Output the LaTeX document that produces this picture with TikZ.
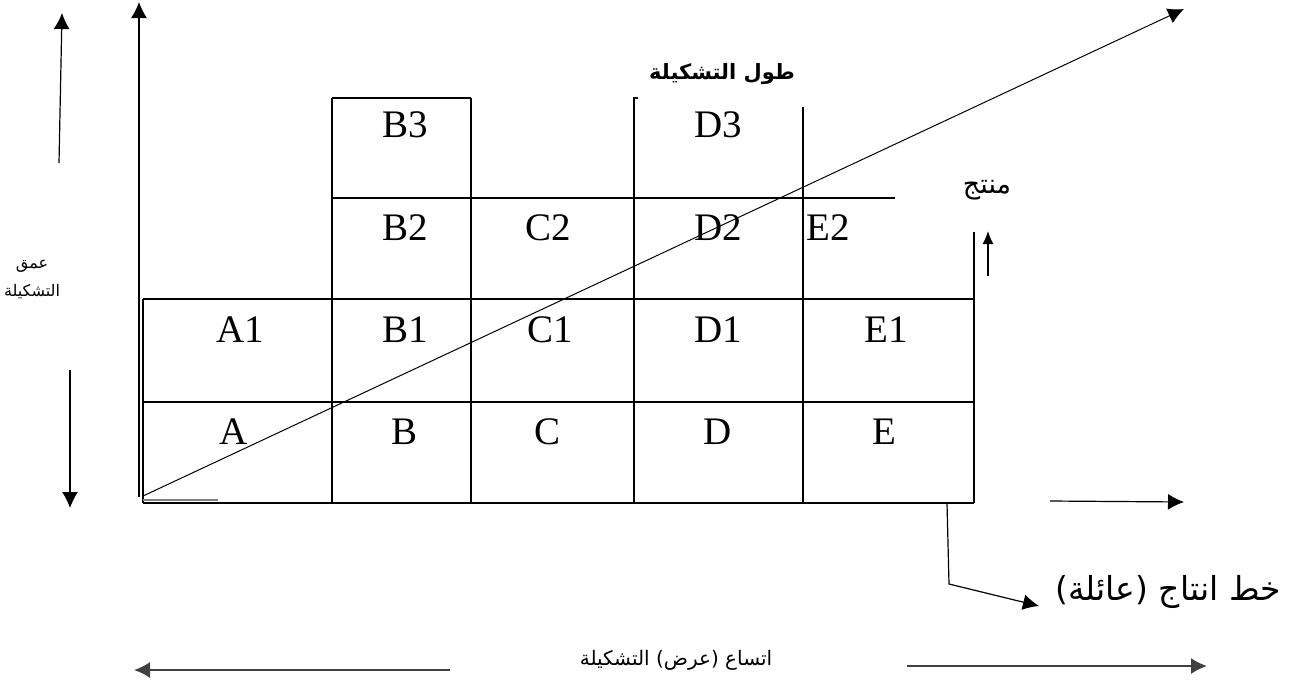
\documentclass[tikz,border=0pt]{standalone}
\usepackage{fontspec}
\setmainfont{Liberation Serif}
\newfontfamily\arabicfont[Script=Arabic]{DejaVu Sans}
\TeXXeTstate=1
\usetikzlibrary{arrows.meta}
\begin{document}
\begin{tikzpicture}[x=1pt,y=-1pt,
  grid/.style={line width=1.8pt},
  thin/.style={line width=1pt},
  arr/.style={line width=1.2pt,-{Latex[length=16pt,width=16pt]}},
  cell/.style={font=\fontsize{39}{42}\selectfont,inner sep=0pt},
  ar/.style={font=\arabicfont,inner sep=0pt}]
\useasboundingbox (0,0) rectangle (1298,683);
% table grid
\draw[grid] (143,299) -- (974,299);
\draw[grid] (143,402) -- (974,402);
\draw[grid] (143,503) -- (974,503);
\draw[grid] (143,299) -- (143,503);
\draw[grid] (332,98) -- (471,98);
\draw[grid] (332,198) -- (895,198);
\draw[grid] (332,98) -- (332,503);
\draw[grid] (471,98) -- (471,503);
\draw[grid] (638,98) -- (634,98) -- (634,503);
\draw[grid] (803,107) -- (803,503);
\draw[grid] (974,232) -- (974,503);
% cell labels
\node[cell] (A1) at (240,330) {A1};
\node[cell] (B1) at (405,330) {B1};
\node[cell] (C1) at (550,330) {C1};
\node[cell] (D1) at (718,330) {D1};
\node[cell] (E1) at (886,330) {E1};
\node[cell] (A) at (234,432) {A};
\node[cell] (B) at (405,432) {B};
\node[cell] (C) at (547,432) {C};
\node[cell] (D) at (718,432) {D};
\node[cell] (E) at (884,432) {E};
\node[cell] (B2) at (405,228) {B2};
\node[cell] (C2) at (548,228) {C2};
\node[cell] (D2) at (718,228) {D2};
\node[cell] (E2) at (828,228) {E2};
\node[cell] (B3) at (405,125) {B3};
\node[cell] (D3) at (718,125) {D3};
% axes
\coordinate (O) at (139,497);
\coordinate (Ytip) at (139,2);
\draw[arr] (O) -- (Ytip);
\draw[line width=1.2pt,gray] (143,500) -- (218,500);
\coordinate (dA) at (143,496);
\coordinate (dB) at (1184,9);
\draw[thin,-{Latex[length=16pt,width=16pt]}] (dA) -- (dB);
% left arrows
\coordinate (lu1) at (59,163); \coordinate (lu2) at (62,13);
\draw[arr] (lu1) -- (lu2);
\coordinate (ld1) at (70,370); \coordinate (ld2) at (70,508);
\draw[arr] (ld1) -- (ld2);
% small up arrow
\coordinate (su1) at (988,276); \coordinate (su2) at (988,231);
\draw[arr,-{Latex[length=13pt,width=11pt]}] (su1) -- (su2);
% right arrow
\coordinate (ra1) at (1050,501); \coordinate (ra2) at (1184,502);
\draw[arr] (ra1) -- (ra2);
% bent arrow
\coordinate (b1) at (947,503); \coordinate (b2) at (949,584); \coordinate (b3) at (1039,606);
\draw[arr] (b1) -- (b2) -- (b3);
% bottom arrows
\coordinate (bl1) at (450,670); \coordinate (bl2) at (134,670);
\draw[arr,line width=1.6pt,darkgray] (bl1) -- (bl2);
\coordinate (br1) at (907,666); \coordinate (br2) at (1207,666);
\draw[arr,line width=1.6pt,darkgray] (br1) -- (br2);
% Arabic labels
\node[ar,font=\arabicfont\bfseries\fontsize{21}{24}\selectfont] (tul) at (722,74) {\beginR طول  التشكيلة\endR};
\node[ar,font=\arabicfont\fontsize{27}{30}\selectfont] (mun) at (987,190) {\beginR منتج\endR};
\node[ar,font=\arabicfont\fontsize{16}{28}\selectfont,align=center] (umq) at (32,280) {\beginR عمق\endR\\\beginR التشكيلة\endR};
\node[ar,font=\arabicfont\fontsize{33}{36}\selectfont] (khat) at (1168,592) {\beginR خط انتاج (عائلة)\endR};
\node[ar,font=\arabicfont\fontsize{20}{24}\selectfont] (itt) at (676,660) {\beginR اتساع (عرض) التشكيلة\endR};
\end{tikzpicture}
\end{document}
